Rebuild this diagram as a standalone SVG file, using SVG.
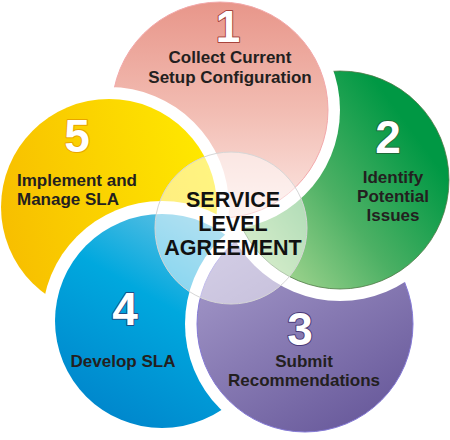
<svg xmlns="http://www.w3.org/2000/svg" width="450" height="440" viewBox="0 0 450 440">
<style>
.band{fill:#ffffff}
.num{font-family:"Liberation Sans",Arial,sans-serif;font-weight:bold;font-size:46px;fill:#ffffff;text-anchor:middle;stroke-width:2;paint-order:stroke;stroke-linejoin:round}
.lbl{font-family:"Liberation Sans",Arial,sans-serif;font-weight:bold;font-size:17px;fill:#231f20;text-anchor:middle}
.ctr{font-family:"Liberation Sans",Arial,sans-serif;font-weight:bold;font-size:21.5px;fill:#111111;text-anchor:middle}
</style>
<defs>
<linearGradient id="g1" x1="0" y1="0" x2="0" y2="1">
<stop offset="0" stop-color="#e8968a"/><stop offset="0.5" stop-color="#f2bcb2"/><stop offset="1" stop-color="#fce8e4"/>
</linearGradient>
<linearGradient id="g2" x1="0.1" y1="0.85" x2="0.85" y2="0.3">
<stop offset="0" stop-color="#a9d893"/><stop offset="0.5" stop-color="#4cb064"/><stop offset="1" stop-color="#009844"/>
</linearGradient>
<linearGradient id="g3" x1="0.2" y1="0" x2="0.8" y2="1">
<stop offset="0" stop-color="#a99ecd"/><stop offset="1" stop-color="#67589a"/>
</linearGradient>
<linearGradient id="g4" x1="0.85" y1="0.05" x2="0.3" y2="1">
<stop offset="0" stop-color="#6ec4e4"/><stop offset="0.45" stop-color="#00a8de"/><stop offset="1" stop-color="#0086cc"/>
</linearGradient>
<linearGradient id="g5" x1="0" y1="0.6" x2="1" y2="0.4">
<stop offset="0" stop-color="#f7be00"/><stop offset="1" stop-color="#ffe900"/>
</linearGradient>
<clipPath id="clip1">
<path clip-rule="evenodd" d="M0 0H450V440H0Z M-11 207a120 120 0 1 0 240 0a120 120 0 1 0 -240 0Z"/>
</clipPath>
</defs>

<g id="node-5">
<circle class="band" cx="109" cy="207" r="120"/>
<circle cx="109" cy="207" r="108" fill="url(#g5)"/>
<text class="num" x="77" y="152" stroke="#e8a400">5</text>
<text class="lbl" style="text-anchor:start" x="17" y="186">Implement and</text>
<text class="lbl" style="text-anchor:start" x="17" y="205">Manage SLA</text>
</g>

<g id="node-4">
<circle class="band" cx="162" cy="321" r="120"/>
<circle cx="162" cy="321" r="107" fill="url(#g4)"/>
<text class="num" x="125" y="325" stroke="#1d4f88">4</text>
<text class="lbl" x="123" y="367">Develop SLA</text>
</g>

<g id="node-3">
<circle class="band" cx="305" cy="324" r="120"/>
<circle cx="305" cy="324" r="108" fill="url(#g3)" stroke="#8479d6" stroke-width="1"/>
<text class="num" x="300" y="345" stroke="#4a3a78">3</text>
<text class="lbl" x="304" y="367">Submit</text>
<text class="lbl" x="304" y="386">Recommendations</text>
</g>

<g id="node-2">
<circle class="band" cx="340" cy="180" r="121"/>
<circle cx="340" cy="180" r="109" fill="url(#g2)" stroke="#4f7a45" stroke-width="0.8"/>
<text class="num" x="388" y="153" stroke="#1f6a38" stroke-width="1">2</text>
<text class="lbl" x="393" y="183">Identify</text>
<text class="lbl" x="393" y="202">Potential</text>
<text class="lbl" x="393" y="221">Issues</text>
</g>

<g id="node-1" clip-path="url(#clip1)">
<circle class="band" cx="220" cy="110" r="120"/>
<circle cx="220" cy="110" r="108" fill="url(#g1)" stroke="#f2a8aa" stroke-width="1"/>
<text class="num" x="228" y="42" style="font-size:44px" stroke="#a8443c">1</text>
<text class="lbl" x="230" y="63">Collect Current</text>
<text class="lbl" x="230" y="83">Setup Configuration</text>
</g>

<g id="center">
<circle cx="231" cy="228" r="76" fill="#ffffff" fill-opacity="0.5" stroke="#d6d6d6" stroke-width="1"/>
<text class="ctr" x="233" y="207">SERVICE</text>
<text class="ctr" x="233" y="231">LEVEL</text>
<text class="ctr" x="233" y="255">AGREEMENT</text>
</g>
</svg>
